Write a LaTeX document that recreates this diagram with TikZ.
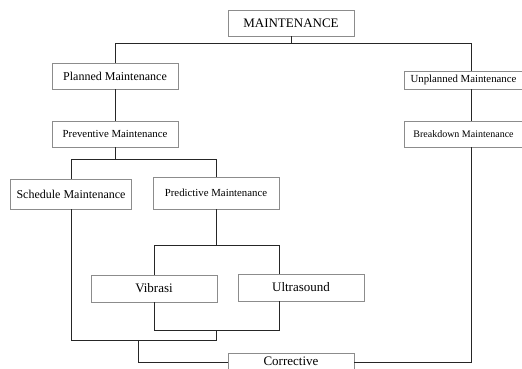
\documentclass[tikz,border=0pt]{standalone}
\usepackage{fontspec}
\setmainfont{Liberation Serif}
\usepackage{tikz}
\usetikzlibrary{shapes,arrows}
\tikzstyle{block} = [rectangle, draw=black!45, fill=white, line width=0.8pt,
    inner sep=0pt, text centered, minimum width=126pt, minimum height=26pt]
\tikzstyle{line} = [draw, line width=0.9pt, black!85]
\newcommand{\fsbig}{\fontsize{13}{15}\selectfont}
\newcommand{\fsmid}{\fontsize{12}{14}\selectfont}
\newcommand{\fssmall}{\fontsize{10.8}{13}\selectfont}
\newcommand{\fstiny}{\fontsize{10}{12}\selectfont}

\begin{document}
\begin{tikzpicture}[x=1pt, y=-1pt]
    \useasboundingbox (0,0) rectangle (522,369);
    \clip (0,0) rectangle (522,369);
    % Place nodes
    \node [block, font=\fsbig] at (291,23) (main) {MAINTENANCE};
    \node [block, font=\fsmid] at (115,76) (planned) {Planned Maintenance};
    \node [block, font=\fssmall, minimum width=119pt, minimum height=18pt] at (463.5,80) (unplanned) {Unplanned Maintenance};
    \node [block, font=\fssmall] at (115,134) (preventive) {Preventive Maintenance};
    \node [block, font=\fstiny, minimum width=119pt] at (463.5,134) (breakdown) {Breakdown Maintenance};
    \node [block, font=\fsmid, minimum width=121pt, minimum height=30pt] at (71,194) (schedule) {Schedule Maintenance};
    \node [block, font=\fssmall, minimum height=32pt] at (216,193) (predictive) {Predictive Maintenance};
    \node [block, font=\fsbig, minimum height=27pt] at (154,288.5) (vibrasi) {Vibrasi};
    \node [block, font=\fsbig, minimum height=27pt] at (301,287.5) (ultrasound) {Ultrasound};
    \node [block, font=\fsbig, minimum height=16pt] at (291,361) (corrective) {Corrective};
    % Helper columns and rows
    \coordinate (ucol) at (471,0);
    \coordinate (ultcol) at (279,0);
    \coordinate (corcol) at (138,0);
    \coordinate (lowbar) at (0,340);
    % Draw edges
    \path [line] (main.south) -- ++(0,7.5) coordinate (topbar);
    \path [line] (planned.north) |- (topbar) -| (ucol |- unplanned.north);
    \path [line] (planned) -- (preventive);
    \path [line] (ucol |- unplanned.south) -- (ucol |- breakdown.north);
    \path [line] (preventive.south) -- ++(0,12) coordinate (prevbar);
    \path [line] (schedule.north) |- (prevbar) -| (predictive.north);
    \path [line] (predictive.south) -- ++(0,36) coordinate (predbar);
    \path [line] (vibrasi.north) |- (predbar) -| (ultcol |- ultrasound.north);
    \path [line] (vibrasi.south) -- ++(0,28) coordinate (sensbar) -| (ultcol |- ultrasound.south);
    \path [line] (schedule.south) |- (predictive.south |- lowbar) -- (predictive.south |- sensbar);
    \path [line] (corcol |- lowbar) |- ([yshift=-1pt]corrective.west);
    \path [line] (ucol |- breakdown.south) |- ([yshift=-1pt]corrective.east);
\end{tikzpicture}
\end{document}
